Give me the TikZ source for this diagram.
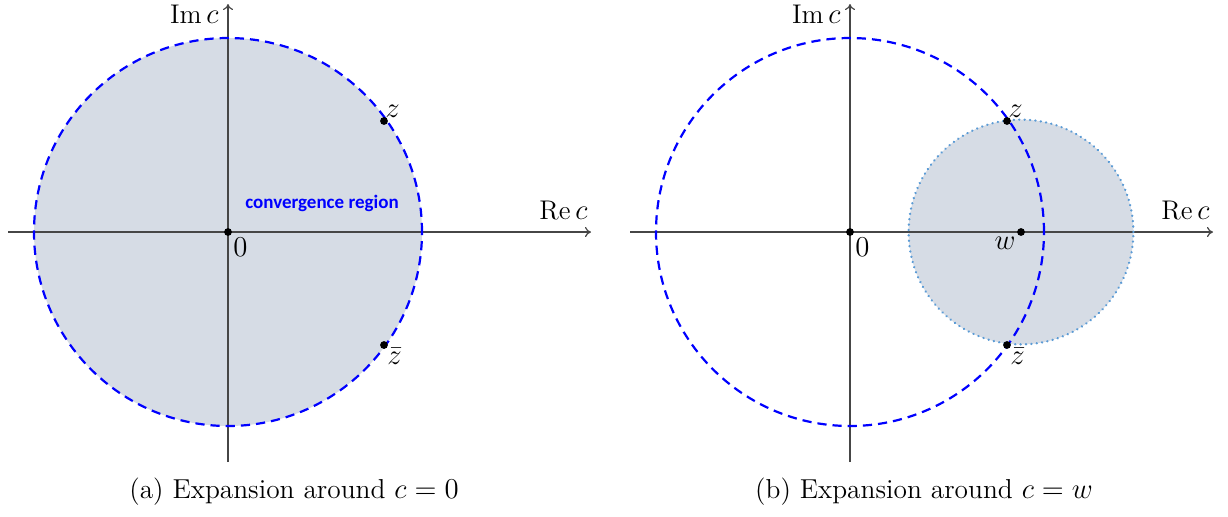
\documentclass[tikz,border=0pt]{standalone}
\usepackage{amsmath}
\usepackage{fontspec}
\newfontfamily\calfont{Carlito}
\usetikzlibrary{arrows.meta,positioning}

\definecolor{regionfill}{RGB}{214,220,229}
\definecolor{smallring}{RGB}{91,155,213}
\definecolor{axisgray}{RGB}{70,70,70}

\begin{document}
\begin{tikzpicture}[
    x=0.5pt, y=-0.5pt,
    >={To[length=3pt,width=5pt]},
    axis/.style={->, draw=axisgray, line width=0.6pt},
    bigring/.style={draw=blue, line width=1.1pt, dash pattern=on 4.6pt off 3pt},
    littlering/.style={draw=smallring, line width=1.2pt, dash pattern=on 0.1pt off 2.6pt, line cap=round},
    dot/.style={circle, fill=black, inner sep=0pt, minimum size=3.9pt},
    axlabel/.style={font=\fontsize{13.5}{16}\selectfont, inner sep=1pt},
    ptlabel/.style={font=\fontsize{14.5}{17}\selectfont, inner sep=1pt},
    caption/.style={font=\fontsize{13.7}{16}\selectfont}
]
  \useasboundingbox (0,0) rectangle (1228,516);

  % (a) expansion around 0
  \coordinate (Oa) at (228,232);
  \fill[regionfill] (Oa) circle[radius=97pt];
  \coordinate (xa0) at (8,232);
  \coordinate (xa1) at (591,232);
  \coordinate (ya0) at (228,462);
  \coordinate (ya1) at (228,4);
  \draw[axis] (xa0) -- (xa1);
  \draw[axis] (ya0) -- (ya1);
  \draw[bigring] (Oa) circle[radius=97pt];
  \node[dot] (za) at (384,121) {};
  \node[dot] (zba) at (384,345) {};
  \node[dot] (oa) at (Oa) {};
  \node[ptlabel, above right=-1pt and -2pt of za] (zalab) {$z$};
  \node[ptlabel, below right=-1pt and -1pt of zba] (zbalab) {$\bar z$};
  \node[ptlabel, below right=0pt and 0pt of oa] (oalab) {$0$};
  \node[axlabel, anchor=south east] (rea) at (590,222) {$\operatorname{Re} c$};
  \node[axlabel, anchor=east] (ima) at (221,14) {$\operatorname{Im} c$};
  \node[font=\calfont\bfseries\fontsize{9.5}{11}\selectfont, text=blue] (conv) at (322,203) {convergence region};
  \node[caption] (capa) at (294,492) {(a) Expansion around $c=0$};

  % (b) expansion around w
  \coordinate (Ob) at (850,232);
  \coordinate (Wb) at (1021,232);
  \fill[regionfill] (Wb) circle[radius=56.2pt];
  \coordinate (xb0) at (630,232);
  \coordinate (xb1) at (1213,232);
  \coordinate (yb0) at (850,462);
  \coordinate (yb1) at (850,4);
  \draw[axis] (xb0) -- (xb1);
  \draw[axis] (yb0) -- (yb1);
  \draw[bigring] (Ob) circle[radius=97pt];
  \draw[littlering] (Wb) circle[radius=56.2pt];
  \node[dot] (zb) at (1007,121) {};
  \node[dot] (zbb) at (1007,345) {};
  \node[dot] (ob) at (Ob) {};
  \node[dot] (wb) at (Wb) {};
  \node[ptlabel, above right=-1pt and -2pt of zb] (zblab) {$z$};
  \node[ptlabel, below right=-1pt and -1pt of zbb] (zbblab) {$\bar z$};
  \node[ptlabel, below right=0pt and 0pt of ob] (oblab) {$0$};
  \node[ptlabel, below left=0pt and 0pt of wb] (wblab) {$w$};
  \node[axlabel, anchor=south east] (reb) at (1212,222) {$\operatorname{Re} c$};
  \node[axlabel, anchor=east] (imb) at (843,14) {$\operatorname{Im} c$};
  \node[caption] (capb) at (924,492) {(b) Expansion around $c=w$};
\end{tikzpicture}
\end{document}
